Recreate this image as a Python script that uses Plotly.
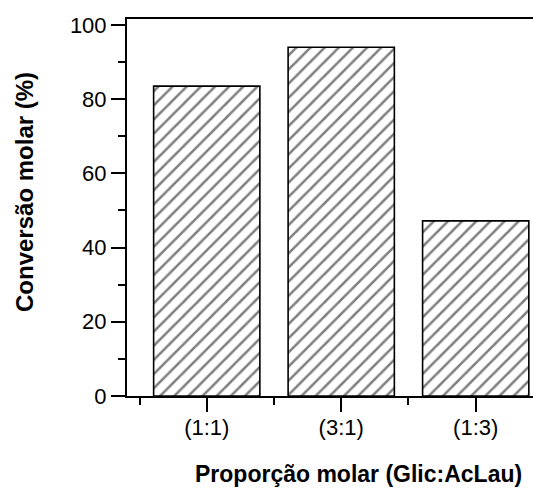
import plotly.graph_objects as go

categories = ["(1:1)", "(3:1)", "(1:3)"]
conversion = [83.5, 94.0, 47.2]
y_tick_vals = [0, 20, 40, 60, 80, 100]
x_title = "Proporção molar (Glic:AcLau)"
y_title = "Conversão molar (%)"

positions = list(range(len(categories)))

fig = go.Figure()
fig.add_trace(go.Bar(
    x=positions,
    y=conversion,
    width=0.79,
    marker=dict(
        color="white",
        line=dict(color="black", width=1.6),
        pattern=dict(shape="/", fgcolor="black", bgcolor="white", size=10, solidity=0.25),
    ),
    showlegend=False,
))

font = "Liberation Sans, Arial, sans-serif"

fig.update_layout(
    width=533,
    height=488,
    margin=dict(l=127, r=0, t=19, b=92),
    plot_bgcolor="white",
    paper_bgcolor="white",
    font=dict(family=font, color="black"),
    xaxis=dict(
        range=[-0.593, 2.426],
        tickmode="array",
        tickvals=positions,
        ticktext=categories,
        ticks="outside",
        ticklen=14,
        tickwidth=2,
        tickcolor="black",
        ticklabelstandoff=-3,
        showline=True,
        linewidth=2,
        linecolor="black",
        mirror=True,
        showgrid=False,
        zeroline=False,
        tickfont=dict(size=22, family=font, color="black"),
        minor=dict(tickmode="array", tickvals=[-0.5, 0.5, 1.5], ticks="outside",
                   ticklen=7, tickwidth=2, tickcolor="black", showgrid=False),
    ),
    yaxis=dict(
        range=[0, 101.6],
        tickmode="array",
        tickvals=y_tick_vals,
        ticks="outside",
        ticklen=14,
        tickwidth=2,
        tickcolor="black",
        showline=True,
        linewidth=2,
        linecolor="black",
        showgrid=False,
        zeroline=False,
        tickfont=dict(size=22, family=font, color="black"),
        minor=dict(tickmode="array", tickvals=[10, 30, 50, 70, 90], ticks="outside",
                   ticklen=7, tickwidth=2, tickcolor="black", showgrid=False),
    ),
    annotations=[
        dict(text="<b>" + x_title + "</b>", xref="paper", yref="paper",
             x=(358 - 127) / 406, y=-(474 - 396) / 377, xanchor="center", yanchor="middle",
             showarrow=False, font=dict(size=23, family=font, color="black")),
        dict(text="<b>" + y_title + "</b>", xref="paper", yref="paper",
             x=-(127 - 24) / 406, y=(396 - 192) / 377, xanchor="center", yanchor="middle",
             textangle=-90, showarrow=False, font=dict(size=24, family=font, color="black")),
    ],
)

fig.write_html("out.html", config={"displayModeBar": False},
               post_script="document.body.style.margin='0';document.body.style.overflow='hidden';")
